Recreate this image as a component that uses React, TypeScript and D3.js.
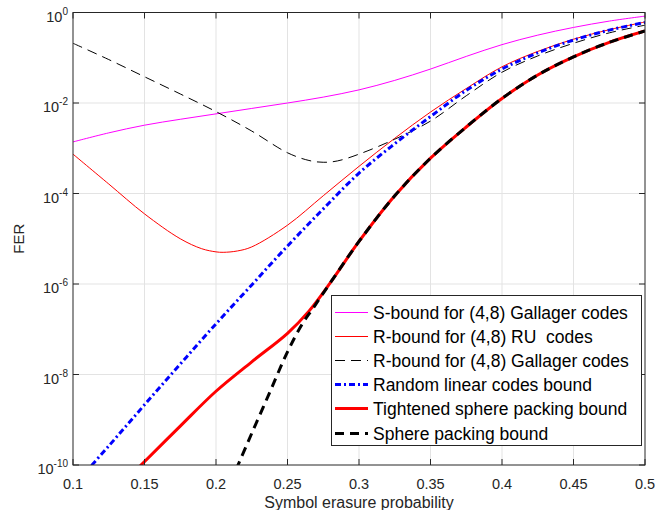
import React from "react";
import * as d3 from "d3";

const W = 657;
const H = 510;

const xTickValues = [0.1, 0.15, 0.2, 0.25, 0.3, 0.35, 0.4, 0.45, 0.5];
const xTickLabels = ["0.1", "0.15", "0.2", "0.25", "0.3", "0.35", "0.4", "0.45", "0.5"];
const yTickExponents = [0, -2, -4, -6, -8, -10];

// S-bound for (4,8) Gallager codes (log10 FER)
const sBoundX = [0.1, 0.125, 0.15, 0.175, 0.2, 0.225, 0.25, 0.275, 0.3, 0.325, 0.35, 0.375, 0.4, 0.425, 0.45, 0.475, 0.5];
const sBoundLog = [-2.86, -2.66, -2.49, -2.36, -2.24, -2.12, -2.0, -1.87, -1.71, -1.5, -1.25, -0.97, -0.71, -0.5, -0.33, -0.19, -0.08];

// R-bound for (4,8) RU codes
const ruX = [0.1, 0.125, 0.15, 0.175, 0.19, 0.2, 0.205, 0.215, 0.225, 0.25, 0.275, 0.3, 0.325, 0.35, 0.375, 0.4, 0.425, 0.45, 0.475, 0.5];
const ruLog = [-3.13, -3.79, -4.45, -5.0, -5.22, -5.29, -5.3, -5.27, -5.18, -4.7, -4.05, -3.4, -2.78, -2.2, -1.68, -1.2, -0.86, -0.59, -0.38, -0.21];

// R-bound for (4,8) Gallager codes
const galX = [0.1, 0.125, 0.15, 0.175, 0.2, 0.225, 0.25, 0.265, 0.275, 0.285, 0.3, 0.325, 0.35, 0.375, 0.4, 0.425, 0.45, 0.475, 0.5];
const galLog = [-0.68, -1.04, -1.42, -1.8, -2.19, -2.62, -3.1, -3.27, -3.31, -3.28, -3.13, -2.8, -2.4, -1.84, -1.32, -0.96, -0.68, -0.45, -0.28];

// Random linear codes bound
const rlX = [0.1, 0.125, 0.15, 0.175, 0.2, 0.225, 0.25, 0.275, 0.3, 0.325, 0.35, 0.375, 0.4, 0.425, 0.45, 0.475, 0.5];
const rlLog = [-10.47, -9.58, -8.67, -7.77, -6.88, -6.02, -5.16, -4.34, -3.55, -2.9, -2.3, -1.72, -1.25, -0.89, -0.61, -0.39, -0.22];

// Tightened sphere packing bound
const tspX = [0.14, 0.1476, 0.175, 0.2, 0.225, 0.25, 0.265, 0.28, 0.3, 0.325, 0.35, 0.375, 0.4, 0.425, 0.45, 0.475, 0.5];
const tspLog = [-10.24, -10.0, -9.14, -8.37, -7.72, -7.09, -6.6, -5.97, -5.06, -4.05, -3.22, -2.53, -1.9, -1.38, -0.98, -0.66, -0.41];

// Sphere packing bound
const spX = [0.21, 0.2154, 0.225, 0.2375, 0.25, 0.26, 0.268, 0.28, 0.3, 0.325, 0.35, 0.375, 0.4, 0.425, 0.45, 0.475, 0.5];
const spLog = [-10.4, -10.0, -9.3, -8.4, -7.5, -6.9, -6.53, -5.97, -5.06, -4.05, -3.22, -2.53, -1.9, -1.38, -0.98, -0.66, -0.41];

const legendLabels = [
  "S-bound for (4,8) Gallager codes",
  "R-bound for (4,8) RU  codes",
  "R-bound for (4,8) Gallager codes",
  "Random linear codes bound",
  "Tightened sphere packing bound",
  "Sphere packing bound",
];

const styles = [
  { color: "#ff00ff", width: 1, dash: "" },
  { color: "#ff0000", width: 1, dash: "" },
  { color: "#000000", width: 1, dash: "10,6" },
  { color: "#0000ff", width: 3, dash: "6,3,2,3" },
  { color: "#ff0000", width: 3, dash: "" },
  { color: "#000000", width: 3, dash: "9,6" },
];

const seriesX = [sBoundX, ruX, galX, rlX, tspX, spX];
const seriesLog = [sBoundLog, ruLog, galLog, rlLog, tspLog, spLog];

const FONT = "'Liberation Sans', Arial, Helvetica, sans-serif";
const AX = "#262626";

export default function App() {
  const left = 73, right = 645, top = 12.5, bottom = 465;
  const x = d3.scaleLinear().domain([0.1, 0.5]).range([left, right]);
  const y = d3.scaleLog().domain([1e-10, 1]).range([bottom, top]);

  const line = d3
    .line<[number, number]>()
    .x((d) => x(d[0]))
    .y((d) => y(Math.pow(10, d[1])))
    .curve(d3.curveCatmullRom.alpha(0.5));

  const paths = seriesX.map((xs, i) =>
    line(xs.map((v, j) => [v, seriesLog[i][j]] as [number, number])) || ""
  );

  const legX = 331, legY = 295, legW = 310, legH = 150;
  const rowH = 24.2;

  return (
    <svg
      width={W}
      height={H}
      style={{ position: "absolute", left: 0, top: 0, background: "#fff" }}
      fontFamily={FONT}
    >
      <rect x={0} y={0} width={W} height={H} fill="#fff" />
      <defs>
        <clipPath id="plotClip">
          <rect x={left} y={top} width={right - left} height={bottom - top} />
        </clipPath>
      </defs>
      {/* grid */}
      <g stroke="#e3e3e3" strokeWidth={1}>
        {xTickValues.slice(1, -1).map((t) => (
          <line key={"gx" + t} x1={x(t)} x2={x(t)} y1={top} y2={bottom} />
        ))}
        {yTickExponents.slice(1, -1).map((e) => (
          <line key={"gy" + e} x1={left} x2={right} y1={y(Math.pow(10, e))} y2={y(Math.pow(10, e))} />
        ))}
      </g>
      {/* curves */}
      <g clipPath="url(#plotClip)" fill="none">
        {paths.map((p, i) => (
          <path
            key={i}
            d={p}
            stroke={styles[i].color}
            strokeWidth={styles[i].width}
            strokeDasharray={styles[i].dash || undefined}
            strokeLinejoin="round"
          />
        ))}
      </g>
      {/* axes box */}
      <rect x={left} y={top} width={right - left} height={bottom - top} fill="none" stroke={AX} strokeWidth={1} />
      {/* ticks */}
      <g stroke={AX} strokeWidth={1}>
        {xTickValues.map((t) => (
          <g key={"tx" + t}>
            <line x1={x(t)} x2={x(t)} y1={bottom} y2={bottom - 6} />
            <line x1={x(t)} x2={x(t)} y1={top} y2={top + 6} />
          </g>
        ))}
        {yTickExponents.map((e) => (
          <g key={"ty" + e}>
            <line x1={left} x2={left + 6} y1={y(Math.pow(10, e))} y2={y(Math.pow(10, e))} />
            <line x1={right} x2={right - 6} y1={y(Math.pow(10, e))} y2={y(Math.pow(10, e))} />
          </g>
        ))}
      </g>
      {/* x tick labels */}
      <g fill={AX} fontSize={14.5} textAnchor="middle">
        {xTickValues.map((t, i) => (
          <text key={"lx" + t} x={x(t)} y={489}>
            {xTickLabels[i]}
          </text>
        ))}
      </g>
      {/* y tick labels */}
      <g fill={AX} textAnchor="end">
        {yTickExponents.map((e) => (
          <text key={"ly" + e} x={68} y={y(Math.pow(10, e)) + 9} fontSize={14.5}>
            <tspan>10</tspan>
            <tspan dy={-7} fontSize={10}>
              {String(e)}
            </tspan>
          </text>
        ))}
      </g>
      {/* axis labels */}
      <text x={(left + right) / 2} y={508} textAnchor="middle" fontSize={16} fill={AX}>
        Symbol erasure probability
      </text>
      <text
        transform={`translate(24, ${(top + bottom) / 2}) rotate(-90)`}
        textAnchor="middle"
        fontSize={15}
        fill={AX}
      >
        FER
      </text>
      {/* legend */}
      <rect x={legX + 0.5} y={legY + 0.5} width={legW} height={legH} fill="#fff" stroke={AX} strokeWidth={1} />
      {legendLabels.map((lab, i) => {
        const cy = Math.round(legY + 16.5 + i * rowH) + 0.5;
        return (
          <g key={"leg" + i}>
            <line
              x1={335}
              x2={368}
              y1={cy}
              y2={cy}
              stroke={styles[i].color}
              strokeWidth={styles[i].width}
              strokeDasharray={styles[i].dash || undefined}
            />
            <text x={373} y={cy + 6} fontSize={17.5} fill="#000" style={{ whiteSpace: "pre" }}>
              {lab}
            </text>
          </g>
        );
      })}
    </svg>
  );
}
